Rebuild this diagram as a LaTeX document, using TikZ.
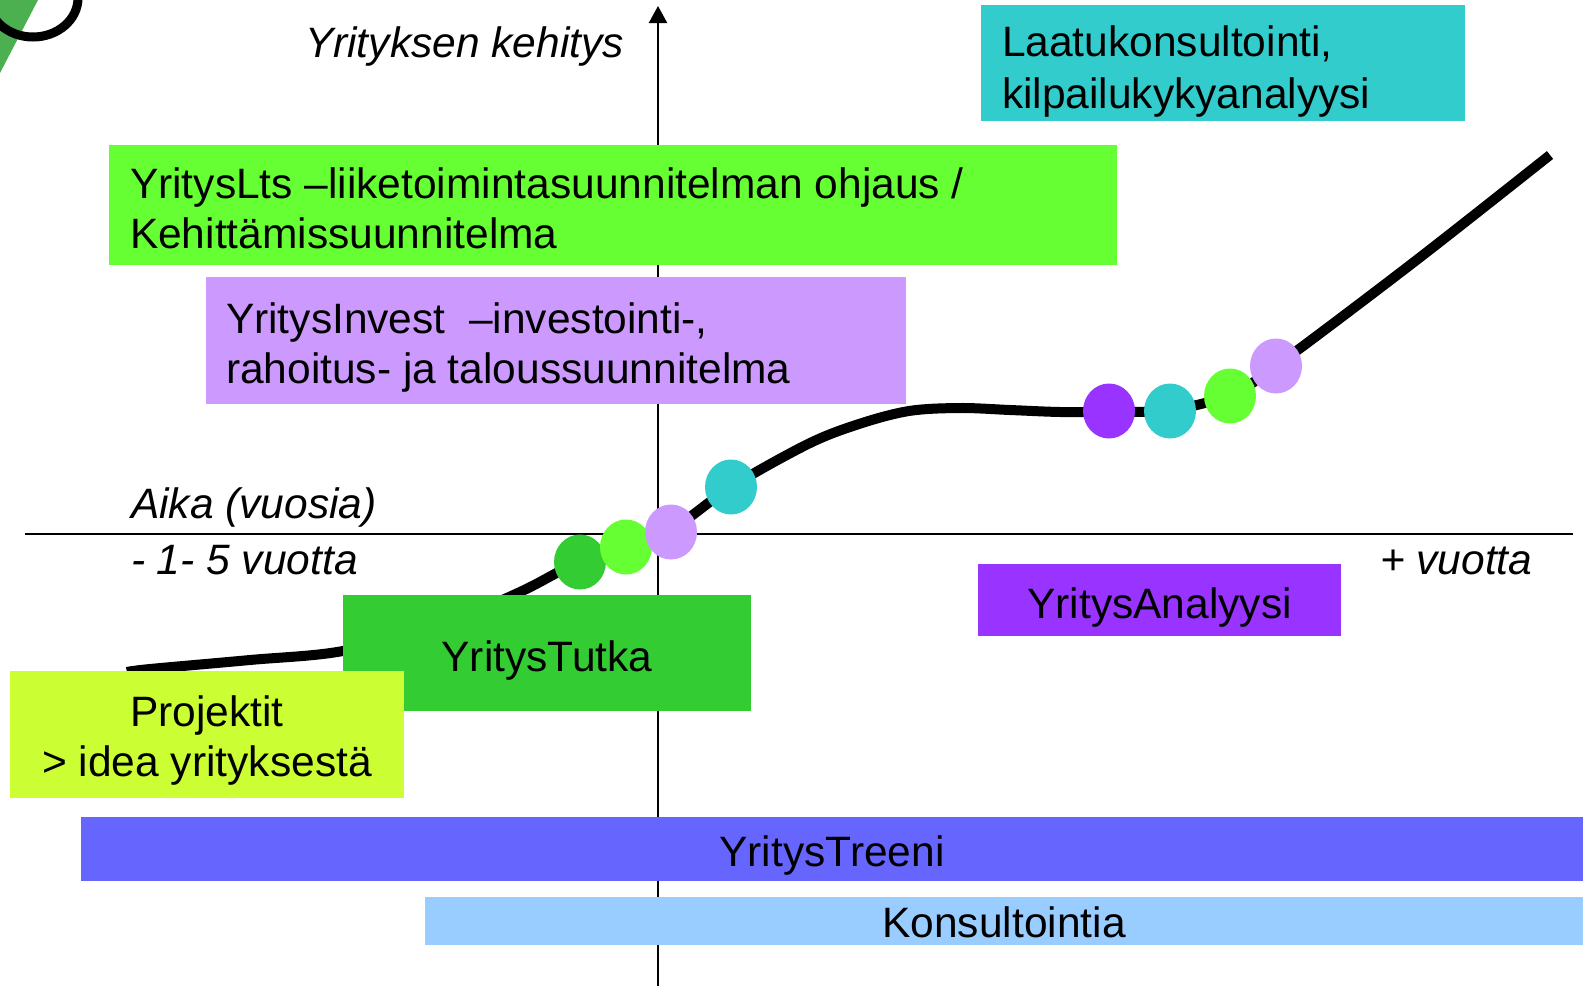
\documentclass[tikz,border=0pt]{standalone}
\usepackage{fontspec}
\setmainfont{Liberation Sans}
\usetikzlibrary{arrows.meta,shapes.geometric}
\definecolor{cCyan}{HTML}{33CCCC}
\definecolor{cLime}{HTML}{66FF33}
\definecolor{cLilac}{HTML}{CC99FF}
\definecolor{cDkGreen}{HTML}{33CC33}
\definecolor{cYellow}{HTML}{CCFF33}
\definecolor{cPurple}{HTML}{9933FF}
\definecolor{cBlue}{HTML}{6666FF}
\definecolor{cLightBlue}{HTML}{99CCFF}
\definecolor{cLogo}{HTML}{4CAF50}
\tikzset{
  box/.style={rectangle, inner sep=0pt, outer sep=0pt, anchor=north west, draw=none,
    font=\fontsize{21.25pt}{25pt}\selectfont, text height=18pt, text depth=0pt},
  txt/.style={inner sep=0pt, outer sep=0pt, align=left, anchor=north west,
    font=\fontsize{21.25pt}{25pt}\selectfont},
  axlbl/.style={inner sep=0pt, outer sep=0pt, anchor=base west,
    font=\fontsize{21.25pt}{25pt}\selectfont\itshape},
  dot/.style={ellipse, inner sep=0pt, minimum width=26pt, minimum height=27.5pt, draw=none},
  axisline/.style={line width=1.1pt, black},
  curveline/.style={line width=5pt, black}
}
\begin{document}
\begin{tikzpicture}[x=0.5pt,y=-0.5pt]
\useasboundingbox (0,0) rectangle (1583,985);
\clip (0,0) rectangle (1583,985);
% logo fragment
\fill[cLogo] (0,0) -- (38,0) -- (0,73) -- cycle;
\draw[line width=4.5pt] (33,-2) ellipse [x radius=22.5pt, y radius=19.5pt];
% axes
\coordinate (vb) at (658,990);
\coordinate (vt) at (658,6);
\coordinate (hl) at (25,534);
\coordinate (hr) at (1573,534);
\draw[axisline] (hl) -- (hr);
\draw[axisline, -{Triangle[length=8.5pt,width=9pt]}] (vb) -- (vt);
% curve
\draw[curveline] plot[smooth, tension=0.55] coordinates {
  (127,672) (150,669) (250,660) (343,651) (440,625) (520,592) (580,561)
  (626,546) (671,530) (731,487) (808,444) (859,424) (909,411) (960,408)
  (1010,410) (1060,412) (1109,412) (1170,410) (1230,395) (1276,366) (1414,262) (1550,155)};
% dots
\node[dot, fill=cDkGreen] (d1) at (580,562) {};
\node[dot, fill=cLime] (d2) at (626,547) {};
\node[dot, fill=cLilac] (d3) at (671,532) {};
\node[dot, fill=cCyan] (d4) at (731,487) {};
\node[dot, fill=cPurple] (d5) at (1109,411) {};
\node[dot, fill=cCyan] (d6) at (1170,411) {};
\node[dot, fill=cLime] (d7) at (1230,396) {};
\node[dot, fill=cLilac] (d8) at (1276,366) {};
% boxes
\node[box, fill=cCyan, minimum width=242pt, minimum height=58pt] (laatu) at (981,5) {};
\node[txt, font=\fontsize{21.25pt}{26pt}\selectfont] (laatutxt) at (1002,26) {Laatukonsultointi,\\kilpailukykyanalyysi};
\node[box, fill=cLime, minimum width=504pt, minimum height=60pt] (lts) at (109,145) {};
\node[txt] (ltstxt) at (130,168) {YritysLts –liiketoimintasuunnitelman ohjaus /\\Kehittämissuunnitelma};
\node[box, fill=cLilac, minimum width=350pt, minimum height=63.5pt] (invest) at (206,277) {};
\node[txt] (investtxt) at (226,303) {YritysInvest\ \ –investointi-,\\rahoitus- ja taloussuunnitelma};
\node[box, fill=cDkGreen, minimum width=204pt, minimum height=58pt] (tutka) at (343,595) {YritysTutka};
\node[box, fill=cYellow, minimum width=197pt, minimum height=63.5pt] (proj) at (10,671) {};
\node[txt, align=center, anchor=north] (projtxt) at (207,696) {Projektit\\> idea yrityksestä};
\node[box, fill=cPurple, minimum width=181.5pt, minimum height=36pt] (analyysi) at (978,564) {YritysAnalyysi};
\node[box, fill=cBlue, minimum width=751pt, minimum height=32pt, text height=17pt] (treeni) at (81,817) {YritysTreeni};
\node[box, fill=cLightBlue, minimum width=579pt, minimum height=24pt, text height=16pt] (kons) at (425,897) {Konsultointia};
% axis labels
\node[axlbl] (ylbl) at (305,57) {Yrityksen kehitys};
\node[axlbl] (aika) at (131,518) {Aika (vuosia)};
\node[axlbl] (minus) at (131,574) {- 1- 5 vuotta};
\node[axlbl] (plus) at (1380,574) {+ vuotta};
\end{tikzpicture}
\end{document}
